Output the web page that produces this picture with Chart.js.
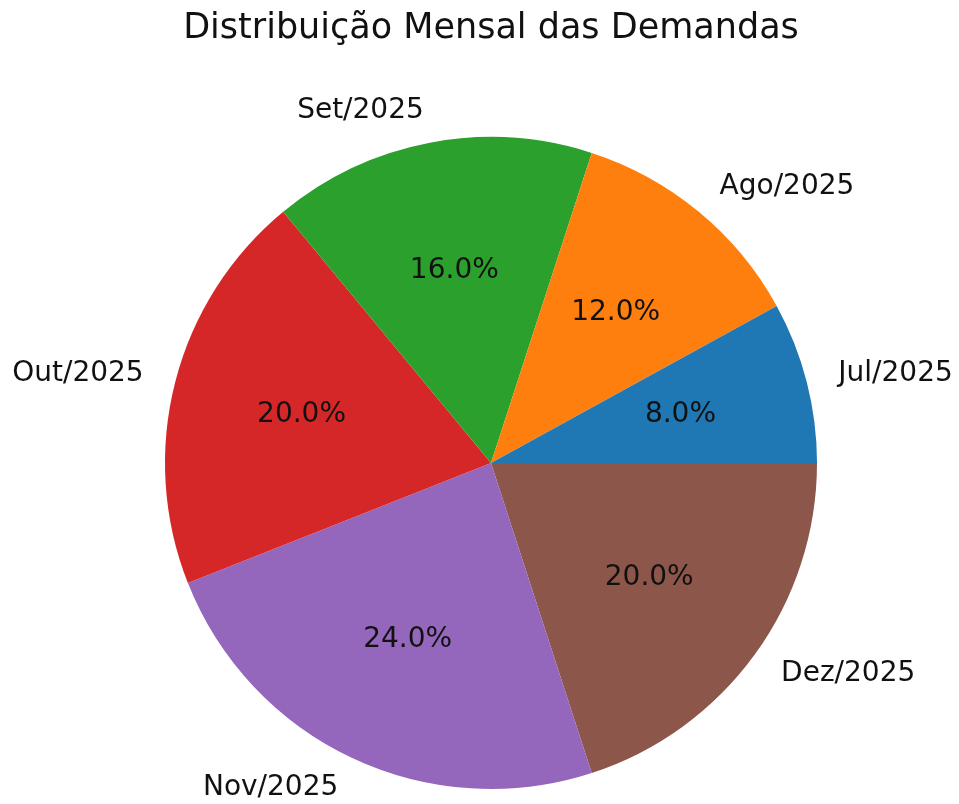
<!DOCTYPE html>
<html>
<head>
  <meta charset="utf-8">
  <title>Distribuição Mensal das Demandas</title>
  <script src="https://cdn.jsdelivr.net/npm/chart.js"></script>
  <style>
    body {
      margin: 0;
      background-color: #fff;
    }
    #wrap {
      width: 959px;
      height: 804px;
      position: relative;
    }
  </style>
</head>
<body>
  <div id="wrap">
    <canvas id="pieChart"></canvas>
  </div>

  <script>
    const chartTitle = 'Distribuição Mensal das Demandas';
    const months = ['Jul/2025', 'Ago/2025', 'Set/2025', 'Out/2025', 'Nov/2025', 'Dez/2025'];
    const demandShare = [8, 12, 16, 20, 24, 20];
    const sliceColors = ['#1f77b4', '#ff7f0e', '#2ca02c', '#d62728', '#9467bd', '#8c564b'];

    // matplotlib draws counter-clockwise from 3 o'clock, Chart.js clockwise,
    // so feed the slices in reverse order and start at 90 degrees
    const revLabels = months.slice().reverse();
    const revValues = demandShare.slice().reverse();
    const revColors = sliceColors.slice().reverse();

    const total = demandShare.reduce((a, b) => a + b, 0);

    const pieText = {
      id: 'pieText',
      afterDatasetsDraw(chart) {
        const ctx = chart.ctx;
        const meta = chart.getDatasetMeta(0);
        ctx.save();
        ctx.fillStyle = '#111';

        // title
        ctx.font = '35px "DejaVu Sans"';
        ctx.textAlign = 'center';
        ctx.textBaseline = 'middle';
        ctx.fillText(chartTitle, 491, 29);

        meta.data.forEach((arc, i) => {
          const mid = (arc.startAngle + arc.endAngle) / 2;
          const r = arc.outerRadius;
          const cos = Math.cos(mid);
          const sin = Math.sin(mid);

          ctx.font = '28px "DejaVu Sans"';
          ctx.textBaseline = 'middle';

          // month label at 1.1 * radius
          const lx = arc.x + cos * r * 1.1;
          const ly = arc.y + sin * r * 1.1;
          ctx.textAlign = cos > 0 ? 'left' : 'right';
          ctx.fillText(revLabels[i], lx, ly);

          // percentage at 0.6 * radius
          const px = arc.x + cos * r * 0.6;
          const py = arc.y + sin * r * 0.6;
          ctx.textAlign = 'center';
          const pct = (revValues[i] / total * 100).toFixed(1) + '%';
          ctx.fillText(pct, px, py);
        });
        ctx.restore();
      }
    };

    const ctx = document.getElementById('pieChart').getContext('2d');
    new Chart(ctx, {
      type: 'pie',
      data: {
        labels: revLabels,
        datasets: [{
          data: revValues,
          backgroundColor: revColors,
          borderWidth: 0
        }]
      },
      options: {
        responsive: true,
        maintainAspectRatio: false,
        animation: false,
        rotation: 90,
        layout: {
          padding: { top: 137, bottom: 15, left: 165, right: 142 }
        },
        plugins: {
          legend: { display: false },
          tooltip: { enabled: false },
          title: { display: false }
        }
      },
      plugins: [pieText]
    });
  </script>
</body>
</html>
